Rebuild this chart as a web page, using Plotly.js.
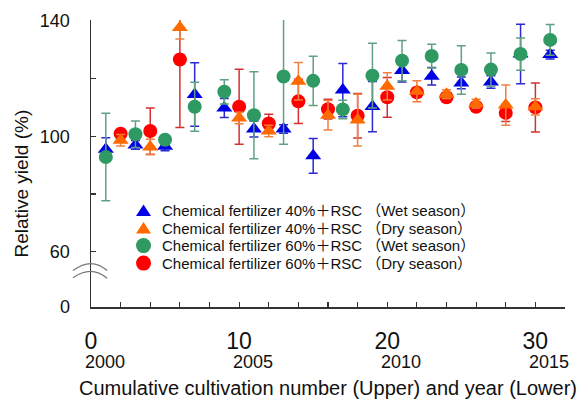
<!DOCTYPE html>
<html>
<head>
<meta charset="utf-8">
<script src="https://cdn.plot.ly/plotly-3.0.1.min.js"></script>
<style>html,body{margin:0;padding:0;background:#fff;}#chart{width:584px;height:399px;}</style>
</head>
<body>
<div id="chart"></div>
<script>
// Cumulative cultivation number: odd = wet season, even = dry season
var wetX = [1, 3, 5, 7, 9, 11, 13, 15, 17, 19, 21, 23, 25, 27, 29, 31];
var dryX = [2, 4, 6, 10, 12, 14, 16, 18, 20, 22, 24, 26, 28, 30];

// Chemical fertilizer 40% + RSC (Wet season)
var cf40Wet    = [95.5, 97.0, 96.5, 114.5, 109.8, 102.5, 102.5, 93.2, 116.0, 110.3, 122.8, 120.8, 118.5, 118.8, 128.5, 128.3];
var cf40WetErr = [4.0, 1.5, 1.5, 11.0, 3.3, 2.8, 1.5, 6.0, 9.2, 8.7, 4.0, 3.0, 2.0, 2.2, 10.3, 1.5];
// Chemical fertilizer 40% + RSC (Dry season)
var cf40Dry    = [98.6, 96.3, 137.7, 106.3, 101.8, 119.1, 107.3, 105.6, 117.3, 115.6, 114.6, 111.3, 110.8, 110.2];
var cf40DryErr = [2.0, 2.7, 4.0, 2.0, 2.0, 6.5, 5.1, 9.0, 4.7, 3.6, 1.5, 1.5, 7.0, 2.8];
// Chemical fertilizer 60% + RSC (Wet season)
var cf60Wet    = [92.8, 100.7, 98.8, 110.2, 115.4, 107.3, 120.7, 119.2, 109.3, 121.0, 126.2, 127.8, 123.0, 123.1, 128.5, 133.4];
var cf60WetErr = [15.2, 4.6, 1.5, 8.5, 4.2, 15.1, 23.5, 8.5, 3.2, 11.2, 7.0, 4.1, 8.4, 5.8, 5.6, 5.3];
// Chemical fertilizer 60% + RSC (Dry season)
var cf60Dry    = [100.9, 101.8, 126.6, 110.2, 104.4, 112.1, 109.4, 107.1, 113.5, 115.2, 113.5, 110.2, 108.1, 110.0];
var cf60DryErr = [1.0, 8.0, 23.6, 13.0, 3.2, 7.7, 3.4, 7.7, 6.9, 1.5, 1.5, 1.5, 3.0, 8.5];

var seriesNames = [
  'Chemical fertilizer 40%\uFF0BRSC \uFF08Wet season\uFF09',
  'Chemical fertilizer 40%\uFF0BRSC \uFF08Dry season\uFF09',
  'Chemical fertilizer 60%\uFF0BRSC \uFF08Wet season\uFF09',
  'Chemical fertilizer 60%\uFF0BRSC \uFF08Dry season\uFF09'
];
var seriesColors = ['#0000e6', '#ff6a00', '#2e9962', '#ff0000'];
var seriesSymbols = ['triangle', 'triangle', 'circle', 'circle'];

// Axis tick definitions
var xTickVals = [0, 2, 4, 6, 8, 10, 12, 14, 16, 18, 20, 22, 24, 26, 28, 30, 32];
var xTickText = ['0', '', '', '', '', '10', '', '', '', '', '20', '', '', '', '', '30', ''];
var yearTickPos = [0, 10, 20, 30];
var yearLabels = ['2000', '2005', '2010', '2015'];
var yBase = 40.8; // axis floor shown as "0" (broken axis)
var yTickVals = [yBase, 60, 80, 100, 120, 140];
var yTickText = ['0', '60', '', '100', '', '140'];

var FONT = 'Liberation Sans, Arial, Noto Sans CJK JP, sans-serif';

function mk(x, y, err, name, color, errColor, symbol) {
  return {
    type: 'scatter', mode: 'markers', x: x, y: y, name: name,
    marker: {symbol: symbol, size: 14, color: color, line: {width: 0}},
    error_y: {type: 'data', array: err, visible: true, color: errColor, thickness: 1.5, width: 4.5},
    cliponaxis: true
  };
}

var traces = [
  mk(wetX, cf40Wet, cf40WetErr, seriesNames[0], seriesColors[0], '#2a2ad0', 'triangle-up'),
  mk(wetX, cf60Wet, cf60WetErr, seriesNames[2], seriesColors[2], '#62a084', 'circle'),
  mk(dryX, cf60Dry, cf60DryErr, seriesNames[3], seriesColors[3], '#d43030', 'circle'),
  mk(dryX, cf40Dry, cf40DryErr, seriesNames[1], seriesColors[1], '#f08040', 'triangle-up')
];

var annotations = [];
var shapes = [];
for (var i = 0; i < yearTickPos.length; i++) {
  annotations.push({
    xref: 'x', yref: 'paper', x: yearTickPos[i] + 0.95, y: -0.19,
    text: yearLabels[i], showarrow: false, xanchor: 'center', yanchor: 'middle',
    font: {family: FONT, size: 18, color: '#111'}
  });
}
annotations.push({
  xref: 'paper', yref: 'paper', x: 0.5, y: -0.283, showarrow: false,
  xanchor: 'center', yanchor: 'middle',
  text: 'Cumulative cultivation number (Upper) and year (Lower)',
  font: {family: FONT, size: 20, color: '#111'}
});
annotations.push({
  xref: 'paper', yref: 'paper', x: -0.1456, y: 0.43, showarrow: false,
  xanchor: 'center', yanchor: 'middle', textangle: -90,
  text: 'Relative yield (%)',
  font: {family: FONT, size: 19, color: '#111'}
});

// Custom legend (symbols + labels)
var legendRowsY = [0.336, 0.275, 0.214, 0.153];
var legendSymX = 0.1108, legendTextX = 0.1456;
for (var k = 0; k < seriesNames.length; k++) {
  annotations.push({
    xref: 'paper', yref: 'paper', x: legendTextX, y: legendRowsY[k], showarrow: false,
    xanchor: 'left', yanchor: 'middle', text: seriesNames[k],
    font: {family: FONT, size: 15, color: '#111'}
  });
  if (seriesSymbols[k] === 'circle') {
    shapes.push({type: 'circle', xref: 'paper', yref: 'paper', xsizemode: 'pixel', ysizemode: 'pixel',
      xanchor: legendSymX, yanchor: legendRowsY[k], x0: -7.5, x1: 7.5, y0: -7.5, y1: 7.5,
      fillcolor: seriesColors[k], line: {width: 0}});
  } else {
    shapes.push({type: 'path', xref: 'paper', yref: 'paper', xsizemode: 'pixel', ysizemode: 'pixel',
      xanchor: legendSymX, yanchor: legendRowsY[k], path: 'M -7.5,-5.5 L 7.5,-5.5 L 0,6 Z',
      fillcolor: seriesColors[k], line: {width: 0}});
  }
}

// Axis break marks
shapes.push({type: 'path', xref: 'paper', yref: 'paper', path: 'M -0.038,0.127 Q 0.001,0.176 0.034,0.127', line: {color: '#777', width: 1.2}});
shapes.push({type: 'path', xref: 'paper', yref: 'paper', path: 'M -0.038,0.102 Q 0.001,0.148 0.034,0.100', line: {color: '#777', width: 1.2}});

var layout = {
  width: 584, height: 399,
  margin: {l: 91, r: 19, t: 20, b: 92, pad: 0},
  paper_bgcolor: '#fff', plot_bgcolor: '#fff',
  font: {family: FONT, color: '#111'},
  showlegend: false,
  xaxis: {
    range: [0, 32], showgrid: false, zeroline: false, showline: true,
    linecolor: '#333', linewidth: 1.5, ticks: 'inside', ticklen: 5, tickwidth: 1.2, tickcolor: '#333',
    tickmode: 'array', tickvals: xTickVals, ticktext: xTickText,
    tickfont: {family: FONT, size: 23, color: '#111'}, ticklabelstandoff: 13
  },
  yaxis: {
    range: [yBase, 140.3], showgrid: false, zeroline: false, showline: true,
    linecolor: '#333', linewidth: 1.5, ticks: 'inside', ticklen: 5, tickwidth: 1.2, tickcolor: '#333',
    tickmode: 'array', tickvals: yTickVals, ticktext: yTickText,
    tickfont: {family: FONT, size: 18, color: '#111'}, ticklabelstandoff: 16
  },
  annotations: annotations,
  shapes: shapes
};

Plotly.newPlot('chart', traces, layout, {displayModeBar: false, staticPlot: true});
</script>
</body>
</html>
